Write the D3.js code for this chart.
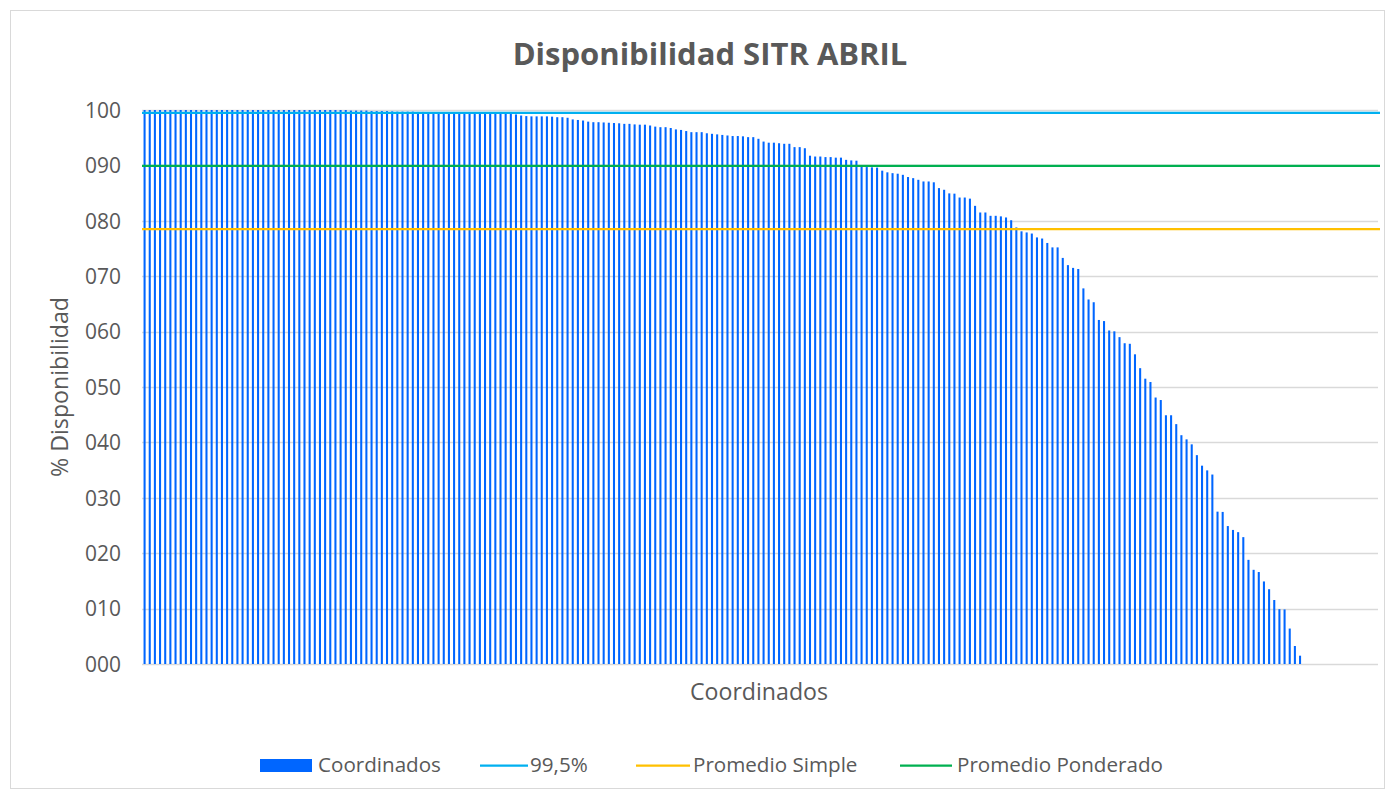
<!DOCTYPE html>
<html>
<head>
<meta charset="utf-8">
<script src="https://cdn.jsdelivr.net/npm/d3@7"></script>
<style>
  html, body { margin: 0; padding: 0; background: #fff; }
  svg { display: block; }
  text { font-family: "Open Sans", "Noto Sans", sans-serif; fill: #595959; }
</style>
</head>
<body>
<svg id="chart" width="1395" height="799"></svg>
<script>
// ---- Data ----
const title = "Disponibilidad SITR ABRIL";
const yAxisTitle = "% Disponibilidad";
const xAxisTitle = "Coordinados";
const yTicks = [0, 10, 20, 30, 40, 50, 60, 70, 80, 90, 100];
const categoryCount = 240;
const coordinados = [
  100,100,100,100,100,100,100,100,100,100,
  100,100,100,100,100,100,100,100,100,100,
  100,100,100,100,100,100,100,100,100,100,
  100,100,100,100,100,100,100,100,100,100,
  99.9,99.9,99.9,99.9,99.8,99.8,99.8,99.8,
  99.75,99.7,99.7,99.7,99.7,99.65,99.65,99.6,99.6,99.6,99.6,99.6,99.55,99.55,99.55,99.5,99.5,99.5,99.5,99.45,99.45,
  99.4,99.4,99.3,99.2,99.0,98.9,98.85,98.85,98.85,98.85,98.8,98.7,98.7,98.6,98.3,98.2,98.1,97.9,97.8,97.8,
  97.75,97.7,97.65,97.6,97.5,97.5,97.4,97.35,97.35,97.2,97.0,96.9,96.9,96.75,96.5,96.4,96.2,96.0,96.0,96.0,
  95.8,95.7,95.6,95.5,95.4,95.3,95.3,95.25,95.1,
  95.1,94.8,94.3,94.1,94.1,94.0,93.9,93.9,93.3,93.3,93.1,
  91.75,91.6,91.6,91.5,91.5,91.4,91.4,91.0,90.9,90.85,
  89.8,89.7,89.65,89.6,89.05,88.75,88.6,88.5,88.3,87.9,87.7,87.4,87.1,87.1,86.95,
  85.9,85.6,84.95,84.9,84.2,84.2,84.0,82.7,81.5,81.5,80.9,80.9,
  80.8,80.6,80.1,78.8,78.1,77.9,77.7,77.0,76.8,76.0,75.2,75.2,73.3,72.0,71.5,71.3,67.8,65.8,65.3,62.1,61.9,
  60.2,60.05,59.0,57.9,57.8,55.9,53.4,51.5,50.9,48.1,47.65,44.9,44.9,43.3,41.3,40.55,39.65,37.7,35.8,34.95,34.2,
  27.5,27.45,24.9,24.2,23.8,22.9,18.8,17.0,16.6,14.9,13.5,11.55,9.9,9.85,6.4,3.25,1.5
];
const meta995 = 99.5;
const promedioSimple = 78.5;
const promedioPonderado = 89.9;
const legendLabels = ["Coordinados", "99,5%", "Promedio Simple", "Promedio Ponderado"];

// ---- Layout ----
const svg = d3.select("#chart");
const W = 1395, H = 799;
const plot = { left: 142, right: 1380, top: 110, bottom: 664 };
const colors = { bar: "#0066FF", meta: "#00B0F0", simple: "#FFC000", ponderado: "#00B050", grid: "#D9D9D9" };

// chart border
svg.append("rect").attr("x", 10.5).attr("y", 10.5).attr("width", W - 21).attr("height", H - 21)
  .attr("fill", "#fff").attr("stroke", "#D9D9D9").attr("stroke-width", 1);

function fit(sel, target) {
  const fs = parseFloat(sel.attr("font-size"));
  const w = sel.node().getComputedTextLength();
  if (w > 0) sel.attr("font-size", fs * target / w);
  return parseFloat(sel.attr("font-size"));
}

const categories = d3.range(1, categoryCount + 1);
const x = d3.scaleBand().domain(categories).range([plot.left, plot.right]).paddingInner(0.6).paddingOuter(0.3);
const y = d3.scaleLinear().domain([0, 100]).range([plot.bottom, plot.top]);

// gridlines
svg.append("g").selectAll("line").data(yTicks).join("line")
  .attr("x1", plot.left).attr("x2", 1378)
  .attr("y1", d => Math.round(y(d)) + 0.5).attr("y2", d => Math.round(y(d)) + 0.5)
  .attr("stroke", colors.grid).attr("stroke-width", 1.3);

// y tick labels
const yAxis = d3.axisLeft(y).tickValues(yTicks).tickFormat(d3.format("03d")).tickSize(0).tickPadding(0);
const yg = svg.append("g").attr("transform", `translate(121,0)`).call(yAxis);
yg.select(".domain").remove();
yg.selectAll("text").attr("font-size", 18).attr("fill", "#595959")
  .style("font-family", '"Open Sans", sans-serif').attr("dy", "0.35em");
yg.selectAll("text").each(function() { fit(d3.select(this), 36); });

// bars
svg.append("g").selectAll("rect").data(coordinados).join("rect")
  .attr("x", (d, i) => x(categories[i]))
  .attr("width", x.bandwidth())
  .attr("y", d => y(d))
  .attr("height", d => y(0) - y(d))
  .attr("fill", colors.bar);

// reference lines
const refs = [
  { v: promedioSimple, c: colors.simple },
  { v: promedioPonderado, c: colors.ponderado },
  { v: meta995, c: colors.meta }
];
svg.append("g").selectAll("line").data(refs).join("line")
  .attr("x1", plot.left).attr("x2", plot.right)
  .attr("y1", d => y(d.v)).attr("y2", d => y(d.v))
  .attr("stroke", d => d.c).attr("stroke-width", 2.25);

// title
const t = svg.append("text").attr("x", 710).attr("y", 65).attr("text-anchor", "middle")
  .attr("font-size", 28).attr("font-weight", "bold").text(title);
fit(t, 395);

// axis titles
const yt = svg.append("text").attr("transform", `translate(68,387) rotate(-90)`)
  .attr("text-anchor", "middle").attr("font-size", 19).text(yAxisTitle);
fit(yt, 180);
const xt = svg.append("text").attr("x", 759).attr("y", 700).attr("text-anchor", "middle")
  .attr("font-size", 19).text(xAxisTitle);
fit(xt, 138);

// legend
const legendItems = [
  { label: legendLabels[0], type: "rect", c: colors.bar, sx: 260, sw: 52, tx: 318 },
  { label: legendLabels[1], type: "line", c: colors.meta, sx: 480, sw: 48, tx: 530 },
  { label: legendLabels[2], type: "line", c: colors.simple, sx: 636, sw: 54, tx: 693 },
  { label: legendLabels[3], type: "line", c: colors.ponderado, sx: 900, sw: 52, tx: 957 }
];
const lg = svg.append("g");
// determine common legend font size from the longest label
const probe = lg.append("text").attr("font-size", 18).text(legendLabels[3]);
const legendFs = fit(probe, 206);
probe.remove();
legendItems.forEach(it => {
  if (it.type === "rect") {
    lg.append("rect").attr("x", it.sx).attr("y", 759).attr("width", it.sw).attr("height", 13).attr("fill", it.c);
  } else {
    lg.append("line").attr("x1", it.sx).attr("x2", it.sx + it.sw).attr("y1", 765.5).attr("y2", 765.5)
      .attr("stroke", it.c).attr("stroke-width", 2.25);
  }
  lg.append("text").attr("x", it.tx).attr("y", 772).attr("font-size", legendFs).text(it.label);
});
</script>
</body>
</html>
